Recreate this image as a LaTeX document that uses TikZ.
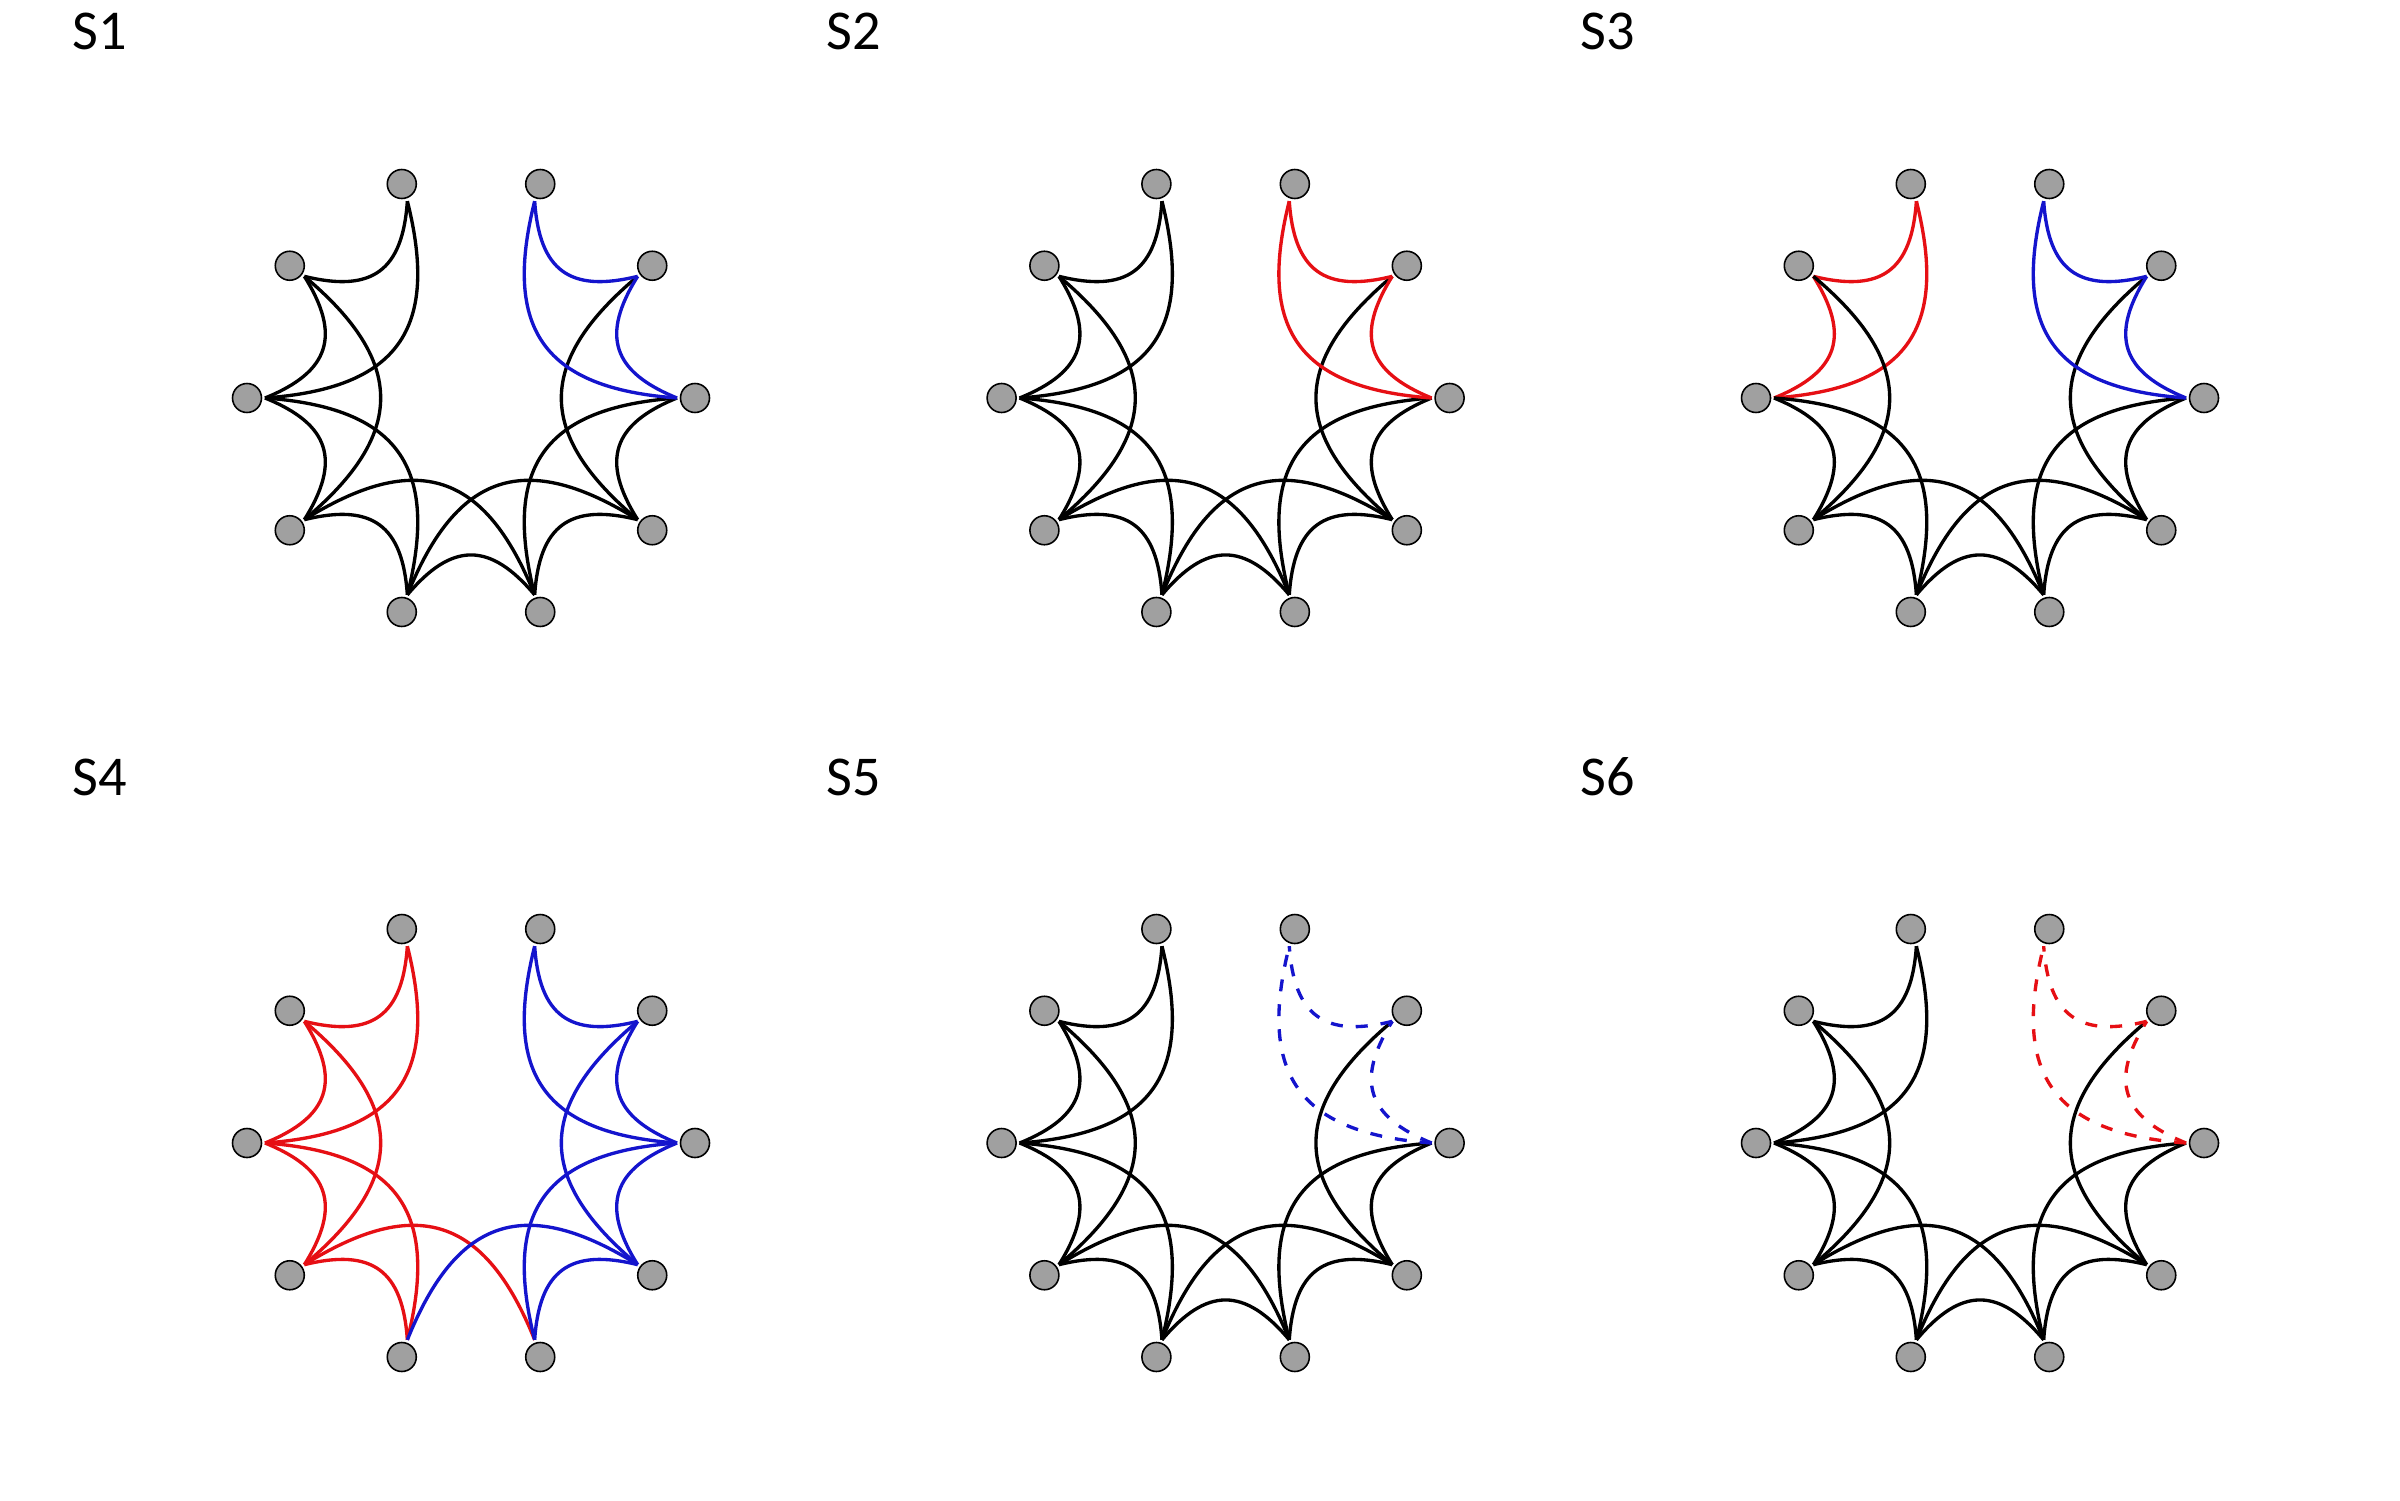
\documentclass[tikz,border=0pt]{standalone}
\usepackage{fontspec}
\setmainfont{Carlito}
\definecolor{nodegray}{RGB}{160,160,160}
\definecolor{eblue}{RGB}{20,20,205}
\definecolor{ered}{RGB}{230,15,20}
\tikzset{
  vtx/.style={circle, draw=black, line width=0.45pt, fill=nodegray, minimum size=0.29cm, inner sep=0pt, outer sep=0.035cm},
  blk/.style={draw=black, line width=0.95pt},
  blu/.style={draw=eblue, line width=0.95pt},
  rd/.style={draw=ered, line width=0.95pt},
  bludash/.style={draw=eblue, line width=0.95pt, dash pattern=on 0.12cm off 0.13cm},
  rddash/.style={draw=ered, line width=0.95pt, dash pattern=on 0.12cm off 0.13cm},
  lbl/.style={anchor=base west, inner sep=0pt, font=\fontsize{16}{19}\selectfont}
}
\newcommand\mypanel[4]{%
  \foreach \k in {1,...,10}{
    \pgfmathsetmacro\th{108+36*(\k-1)}
    \node[vtx] (#1-\k) at ({#2+2.24*cos(\th)},{#3+2.25*sin(\th)}) {};
  }
  \foreach \i/\j/\st in {#4}{
    \pgfmathtruncatemacro\ai{mod(288+36*(\i-1),360)}
    \pgfmathtruncatemacro\aj{mod(288+36*(\j-1),360)}
    \draw[\st] (#1-\i.\ai) to[bend left=50,looseness=1.4] (#1-\j.\aj);
  }
}
\begin{document}
\begin{tikzpicture}
\fill[white] (0,0) rectangle (24,15);
\useasboundingbox (0,0) rectangle (24,15);
% labels
\node[lbl] (L1) at (0.72,14.5) {S1};
\node[lbl] (L2) at (8.26,14.5) {S2};
\node[lbl] (L3) at (15.80,14.5) {S3};
\node[lbl] (L4) at (0.72,7.05) {S4};
\node[lbl] (L5) at (8.26,7.05) {S5};
\node[lbl] (L6) at (15.80,7.05) {S6};
% S1
\mypanel{a}{4.71}{11.02}{1/2/blk,1/3/blk,2/3/blk,2/4/blk,3/4/blk,3/5/blk,4/5/blk,4/6/blk,5/6/blk,5/7/blk,6/7/blk,6/8/blk,7/8/blk,7/9/blk,8/9/blu,8/10/blu,9/10/blu}
% S2
\mypanel{b}{12.256}{11.02}{1/2/blk,1/3/blk,2/3/blk,2/4/blk,3/4/blk,3/5/blk,4/5/blk,4/6/blk,5/6/blk,5/7/blk,6/7/blk,6/8/blk,7/8/blk,7/9/blk,8/9/rd,8/10/rd,9/10/rd}
% S3
\mypanel{c}{19.80}{11.02}{1/2/rd,1/3/rd,2/3/rd,2/4/blk,3/4/blk,3/5/blk,4/5/blk,4/6/blk,5/6/blk,5/7/blk,6/7/blk,6/8/blk,7/8/blk,7/9/blk,8/9/blu,8/10/blu,9/10/blu}
% S4
\mypanel{d}{4.71}{3.57}{1/2/rd,1/3/rd,2/3/rd,2/4/rd,3/4/rd,3/5/rd,4/5/rd,4/6/rd,5/7/blu,6/7/blu,6/8/blu,7/8/blu,7/9/blu,8/9/blu,8/10/blu,9/10/blu}
% S5
\mypanel{e}{12.256}{3.57}{1/2/blk,1/3/blk,2/3/blk,2/4/blk,3/4/blk,3/5/blk,4/5/blk,4/6/blk,5/6/blk,5/7/blk,6/7/blk,6/8/blk,7/8/blk,7/9/blk,8/9/bludash,8/10/bludash,9/10/bludash}
% S6
\mypanel{f}{19.80}{3.57}{1/2/blk,1/3/blk,2/3/blk,2/4/blk,3/4/blk,3/5/blk,4/5/blk,4/6/blk,5/6/blk,5/7/blk,6/7/blk,6/8/blk,7/8/blk,7/9/blk,8/9/rddash,8/10/rddash,9/10/rddash}
\end{tikzpicture}
\end{document}
